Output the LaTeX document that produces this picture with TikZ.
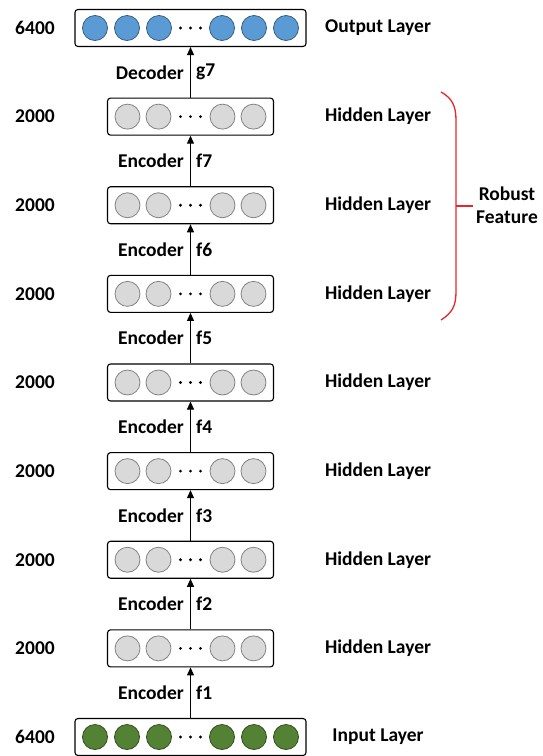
\documentclass[tikz,border=0pt]{standalone}
\usepackage{fontspec}
\setmainfont{Carlito}
\usetikzlibrary{arrows.meta,calc}
\definecolor{outc}{HTML}{5B9BD5}
\definecolor{inc}{HTML}{548235}
\definecolor{hidc}{HTML}{D9D9D9}
\definecolor{brk}{HTML}{E8262B}
\tikzset{
  layer/.style={draw=black, line width=1.1pt, rounded corners=3pt, minimum height=37pt,
                minimum width=#1, inner sep=0pt},
  unit/.style={circle, draw=#1!60!black, fill=#1, line width=0.8pt, minimum size=25pt, inner sep=0pt},
  dot/.style={circle, fill=black, minimum size=3.2pt, inner sep=0pt},
  txt/.style={font=\bfseries\fontsize{19.5}{23}\selectfont, inner sep=0pt},
  flow/.style={-{Triangle[length=8pt,width=7pt]}, line width=1.1pt},
}
\begin{document}
\begin{tikzpicture}[x=1pt, y=-1pt]
  \useasboundingbox (0,0) rectangle (542,756);

  % --- input and output layers
  \node[layer=231pt] (L0) at (190.5,737) {};
  \node[layer=231pt] (L8) at (190.5,28) {};
  \foreach \j/\dx in {1/-95.5,2/-63.5,3/-31.5,4/31.5,5/63.5,6/95.5}{
    \node[unit=inc] (L0u\j) at ($(L0)+(\dx,0)$) {};
    \node[unit=outc] (L8u\j) at ($(L8)+(\dx,0)$) {};
  }
  \node[txt] (n0) at (35,737) {6400};
  \node[txt] (n8) at (35,28) {6400};
  \node[txt] (t0) at (378,737) {Input Layer};
  \node[txt] (t8) at (378,28) {Output Layer};

  % --- hidden layers
  \foreach \k in {1,...,7}{
    \node[layer=166pt] (L\k) at (190.5,{737-88.625*\k}) {};
    \foreach \j/\dx in {1/-63,2/-32,3/32,4/63}
      \node[unit=hidc] (L\k u\j) at ($(L\k)+(\dx,0)$) {};
    \node[txt] (n\k) at (35,{737-88.625*\k}) {2000};
    \node[txt] (t\k) at (378,{737-88.625*\k}) {Hidden Layer};
  }
  \foreach \k in {0,...,8}
    \foreach \j/\dx in {1/-10,2/0,3/10}
      \node[dot] (L\k d\j) at ($(L\k)+(\dx,0)$) {};

  % --- mappings
  \foreach \k [evaluate=\k as \p using int(\k-1)] in {1,...,7}{
    \draw[flow] (L\p) -- (L\k);
    \node[txt, anchor=east] (e\k) at ($($(L\p)!0.5!(L\k)$)+(-6.5,0)$) {Encoder};
    \node[txt, anchor=west] (f\k) at ($($(L\p)!0.5!(L\k)$)+(5.5,0)$) {f\k};
  }
  \draw[flow] (L7) -- (L8);
  \node[txt, anchor=east] (d8) at ($($(L7)!0.5!(L8)$)+(-6.5,0)$) {Decoder};
  \node[txt, anchor=west] (g8) at ($($(L7)!0.5!(L8)$)+(5.5,0)$) {g7};

  % --- robust feature brace
  \node[txt, align=center] (rob) at (507,205) {Robust\\Feature};
  \coordinate (bmid) at (456,206);
  \draw[brk, line width=1.3pt] (441,92) .. controls (452,98) and (456,106) .. (456,120)
    -- (456,292) .. controls (456,306) and (452,313) .. (441,320);
  \draw[brk, line width=1.3pt] (bmid) -- ([xshift=-3pt]rob.west |- bmid);
\end{tikzpicture}
\end{document}
